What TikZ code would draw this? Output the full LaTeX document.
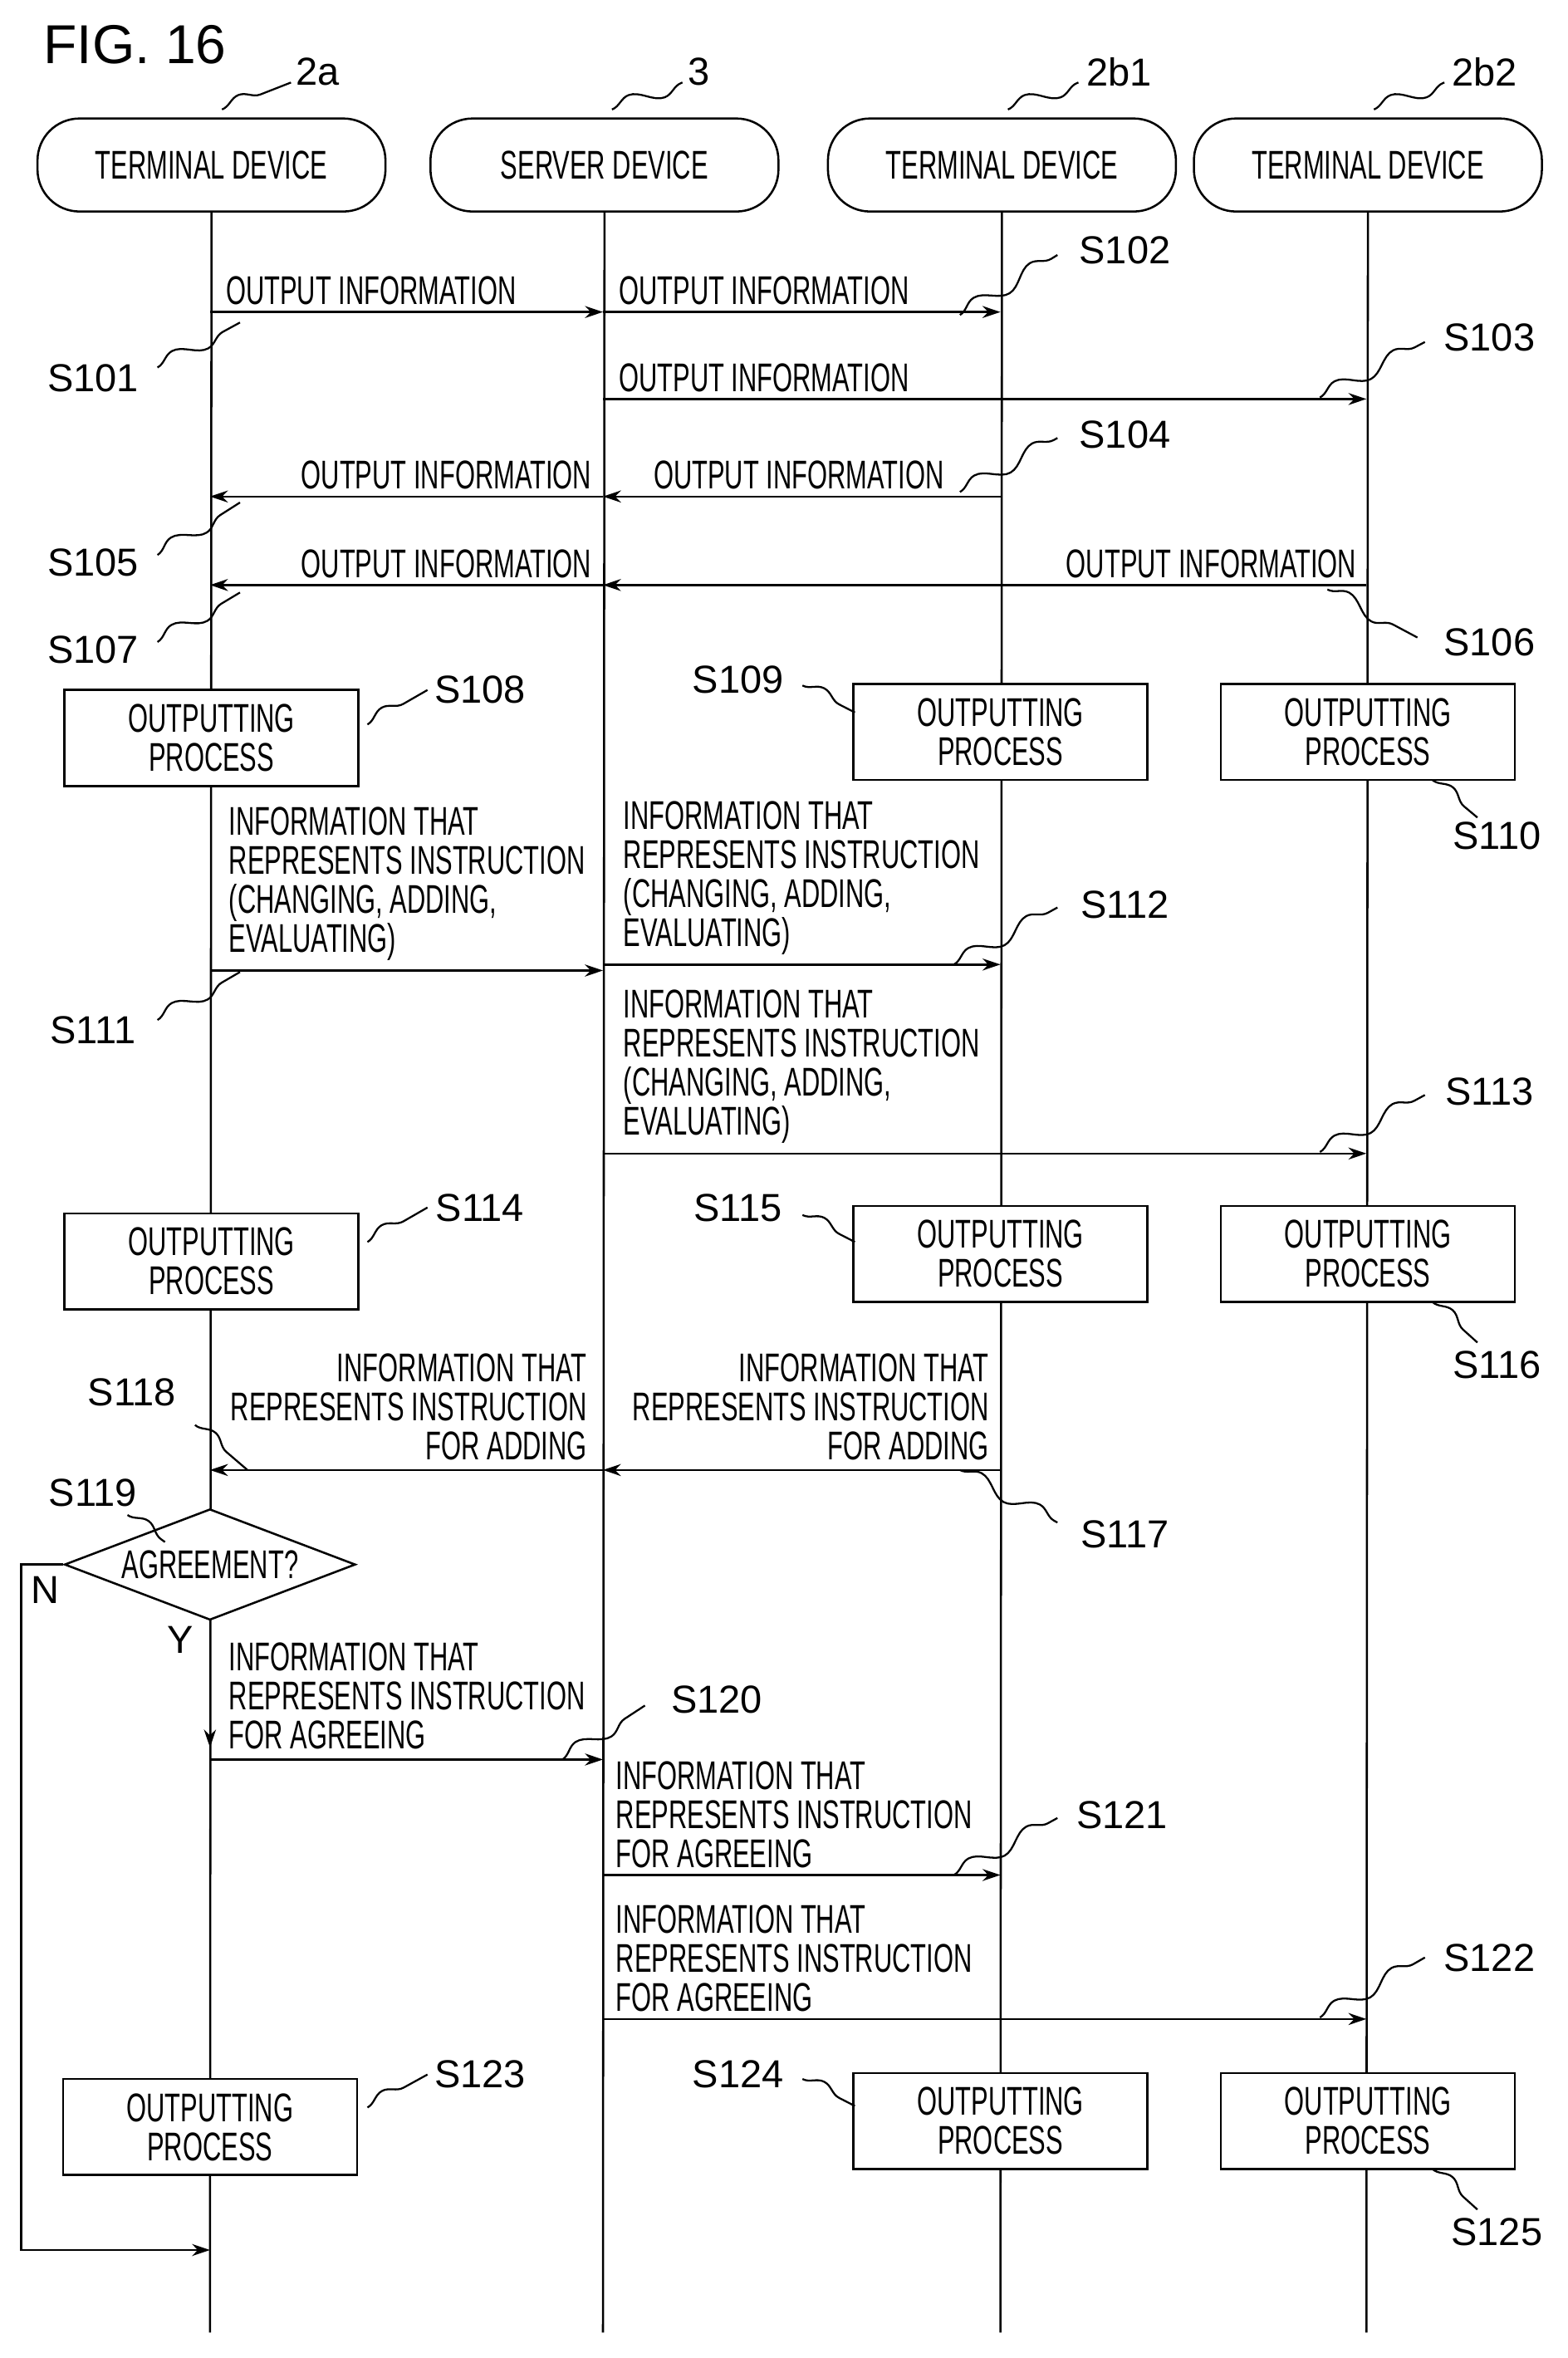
\documentclass[tikz,border=0pt]{standalone}
\usepackage{fontspec}
\setmainfont{Liberation Sans}[FakeStretch=0.64]
\newfontfamily\figfont{Liberation Sans}
\usetikzlibrary{arrows.meta,shapes.geometric,decorations.pathmorphing}
\tikzset{
  head/.style={draw,rounded corners=14mm,minimum width=116mm,minimum height=31mm,line width=2pt},
  proc/.style={draw,fill=white,minimum width=98mm,minimum height=32mm,align=center,line width=2pt},
  msg/.style={-{Stealth[length=6mm,width=4mm]},line width=2pt},
  lbl/.style={inner sep=0pt,align=left,anchor=south west},
  rlbl/.style={inner sep=0pt,align=right,anchor=south east},
  tag/.style={inner sep=0pt,font=\figfont\fontsize{37}{37}\selectfont},
  squig/.style={decorate,decoration={snake,segment length=22mm,amplitude=2.5mm},line width=1.8pt},
}
\begin{document}
\begin{tikzpicture}[x=0.5mm,y=-0.5mm,line width=2pt,font=\fontsize{38}{37}\selectfont]
\useasboundingbox (0,0) rectangle (1045,1572);
\node[tag,font=\figfont\fontsize{52}{52}\selectfont] (fig) at (90,30) {FIG. 16};
% heads
\node[head] (ta) at (141,110) {TERMINAL DEVICE};
\node[head] (sv) at (403,110) {SERVER DEVICE};
\node[head] (tb1) at (668,110) {TERMINAL DEVICE};
\node[head] (tb2) at (912,110) {TERMINAL DEVICE};
\node[tag] (ra) at (212,48) {2a};
\node[tag] (rs) at (466,48) {3};
\node[tag] (rb1) at (746,48) {2b1};
\node[tag] (rb2) at (990,48) {2b2};
\draw[squig] (148,73) -- (194,55);
\draw[squig] (408,73) -- (455,55);
\draw[squig] (672,73) -- (719,55);
\draw[squig] (916,73) -- (963,55);
% lifeline points
\foreach \n/\y in {1/208,2/266,3/331,4/390,5/647,6/643,7/769,8/980,9/1173,10/1250,11/1346,12/1500,13/1165,14/1555}{
  \coordinate (a\n) at (140,\y);
  \coordinate (s\n) at (402,\y);
  \coordinate (b\n) at (667,\y);
  \coordinate (c\n) at (911,\y);
}
\draw (ta.south) -- (a14);
\draw (sv.south) -- (s14);
\draw (tb1.south) -- (b14);
\draw (tb2.south) -- (c14);
% messages
\draw[msg] (a1) -- (s1);
\node[lbl] at (150,204) {OUTPUT INFORMATION};
\draw[msg] (s1) -- (b1);
\node[lbl] at (412,204) {OUTPUT INFORMATION};
\draw[msg] (s2) -- (c2);
\node[lbl] at (412,262) {OUTPUT INFORMATION};
\draw[msg] (b3) -- (s3);
\draw[msg] (s3) -- (a3);
\node[rlbl] at (630,327) {OUTPUT INFORMATION};
\node[rlbl] at (395,327) {OUTPUT INFORMATION};
\draw[msg] (c4) -- (s4);
\draw[msg] (s4) -- (a4);
\node[rlbl] at (905,386) {OUTPUT INFORMATION};
\node[rlbl] at (395,386) {OUTPUT INFORMATION};
\draw[msg] (a5) -- (s5);
\node[lbl] at (152,641) {INFORMATION THAT\\REPRESENTS INSTRUCTION\\(CHANGING, ADDING,\\EVALUATING)};
\draw[msg] (s6) -- (b6);
\node[lbl] at (415,637) {INFORMATION THAT\\REPRESENTS INSTRUCTION\\(CHANGING, ADDING,\\EVALUATING)};
\draw[msg] (s7) -- (c7);
\node[lbl] at (415,763) {INFORMATION THAT\\REPRESENTS INSTRUCTION\\(CHANGING, ADDING,\\EVALUATING)};
\draw[msg] (b8) -- (s8);
\draw[msg] (s8) -- (a8);
\node[rlbl] at (660,974) {INFORMATION THAT\\REPRESENTS INSTRUCTION\\FOR ADDING};
\node[rlbl] at (392,974) {INFORMATION THAT\\REPRESENTS INSTRUCTION\\FOR ADDING};
\draw[msg] (a9) -- (s9);
\node[lbl] at (152,1167) {INFORMATION THAT\\REPRESENTS INSTRUCTION\\FOR AGREEING};
\draw[msg] (s10) -- (b10);
\node[lbl] at (410,1246) {INFORMATION THAT\\REPRESENTS INSTRUCTION\\FOR AGREEING};
\draw[msg] (s11) -- (c11);
\node[lbl] at (410,1342) {INFORMATION THAT\\REPRESENTS INSTRUCTION\\FOR AGREEING};
% outputting processes
\foreach \n/\x/\y in {p1/141/492,p2/667/488,p3/912/488,p4/141/841,p5/667/836,p6/912/836,p7/140/1418,p8/667/1414,p9/912/1414}
  \node[proc] (\n) at (\x,\y) {OUTPUTTING\\PROCESS};
% decision
\node[diamond,draw,fill=white,aspect=2.6,minimum width=97mm,minimum height=37mm,inner sep=0pt,line width=2pt] (dec) at (140,1043) {AGREEMENT?};
\draw[msg] (dec.south) -- (a13);
\draw[msg] (dec.west) -- (14,1043) |- (a12);
\node[tag] (nn) at (30,1060) {N};
\node[tag] (yy) at (120,1093) {Y};
% step tags
\foreach \t/\x/\y/\ax/\ay/\bx/\by in {
  S101/62/252/105/245/160/215, S102/750/167/640/210/705/170,
  S103/993/225/880/265/950/228, S104/750/290/640/328/705/292,
  S105/62/375/105/370/160/335, S106/993/428/885/393/945/425,
  S107/62/433/105/428/160/395, S108/320/460/245/483/285/460,
  S109/492/453/535/457/570/475, S110/998/557/955/520/985/545,
  S111/62/687/105/680/160/648, S112/750/603/636/643/705/605,
  S113/993/728/880/768/950/730, S114/320/805/245/828/285/805,
  S115/492/805/535/810/570/828, S116/998/910/955/868/985/895,
  S117/750/1023/640/980/705/1015, S118/88/928/130/950/165/980,
  S119/62/995/85/1010/110/1028, S120/478/1133/375/1173/430/1137,
  S121/748/1210/636/1250/705/1212, S122/993/1305/880/1345/950/1305,
  S123/320/1383/245/1405/285/1383, S124/492/1383/535/1386/570/1404,
  S125/998/1488/955/1446/985/1473}{
  \node[tag] (\t) at (\x,\y) {\t};
  \draw[squig] (\ax,\ay) -- (\bx,\by);
}
\end{tikzpicture}
\end{document}
